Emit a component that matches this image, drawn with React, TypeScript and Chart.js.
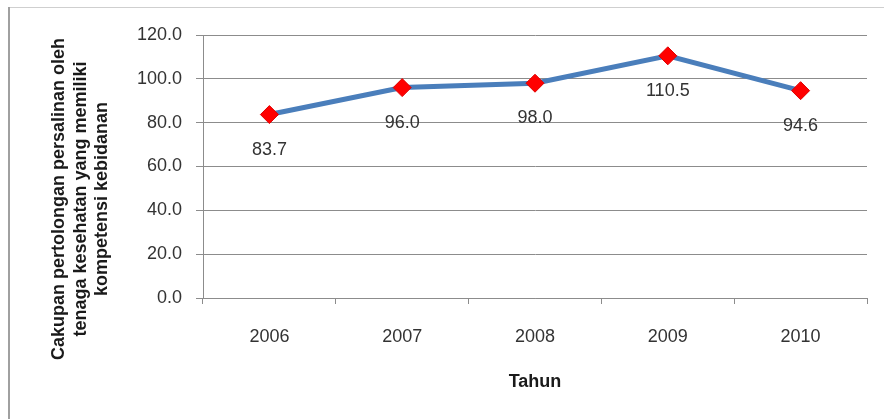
import React, { useEffect, useRef } from "react";
import { Chart, registerables } from "chart.js";

Chart.register(...registerables);

const categories = ["2006", "2007", "2008", "2009", "2010"];
const values = [83.7, 96.0, 98.0, 110.5, 94.6];
const yTitleLines = [
  "Cakupan pertolongan persalinan oleh",
  "tenaga kesehatan yang memiliki",
  "kompetensi kebidanan",
];
const xTitle = "Tahun";

const FONT = "'Liberation Sans', Arial, sans-serif";

const framePlugin = {
  id: "frame",
  beforeDraw(chart: any) {
    const ctx = chart.ctx;
    ctx.save();
    ctx.fillStyle = "#ffffff";
    ctx.fillRect(0, 0, chart.width, chart.height);
    ctx.fillStyle = "#cfcfcf";
    ctx.fillRect(8, 7, chart.width - 8, 1);
    ctx.fillStyle = "#a0a0a0";
    ctx.fillRect(8, 7, 2, chart.height - 7);
    ctx.restore();
  },
};

const yTitlePlugin = {
  id: "yTitle",
  afterDraw(chart: any) {
    const ctx = chart.ctx;
    const lh = 21.5;
    const cx = 81;
    const cy = 199;
    ctx.save();
    ctx.fillStyle = "#1a1a1a";
    ctx.font = `bold 18px ${FONT}`;
    ctx.textAlign = "center";
    ctx.textBaseline = "middle";
    yTitleLines.forEach((line, i) => {
      const x = cx + (i - (yTitleLines.length - 1) / 2) * lh;
      ctx.save();
      ctx.translate(x, cy);
      ctx.rotate(-Math.PI / 2);
      ctx.fillText(line, 0, 0);
      ctx.restore();
    });
    ctx.restore();
  },
};

const dataLabelPlugin = {
  id: "dataLabels",
  afterDatasetsDraw(chart: any) {
    const ctx = chart.ctx;
    const meta = chart.getDatasetMeta(0);
    ctx.save();
    ctx.fillStyle = "#333333";
    ctx.font = `18px ${FONT}`;
    ctx.textAlign = "center";
    ctx.textBaseline = "middle";
    meta.data.forEach((pt: any, i: number) => {
      ctx.fillText(values[i].toFixed(1), pt.x, pt.y + 35);
    });
    ctx.restore();
  },
};

export default function App() {
  const ref = useRef<HTMLCanvasElement | null>(null);
  useEffect(() => {
    if (!ref.current) return;
    const chart = new Chart(ref.current, {
      type: "line",
      data: {
        labels: categories,
        datasets: [
          {
            data: values,
            borderColor: "#4a7ebb",
            borderWidth: 5,
            pointStyle: "rectRot",
            pointRadius: 9,
            pointBackgroundColor: "#ff0000",
            pointBorderColor: "#e00000",
            pointBorderWidth: 1,
            tension: 0,
            fill: false,
          },
        ],
      },
      options: {
        responsive: false,
        animation: false,
        devicePixelRatio: 1,
        layout: { padding: { top: 35, right: 17, left: 0, bottom: 0 } },
        plugins: {
          legend: { display: false },
          tooltip: { enabled: false },
        },
        scales: {
          x: {
            offset: true,
            grid: {
              offset: true,
              drawOnChartArea: false,
              drawTicks: true,
              tickLength: 6,
              color: "#8c8c8c",
            },
            border: { display: true, color: "#8c8c8c", width: 1 },
            ticks: {
              color: "#333333",
              font: { family: FONT, size: 18 },
              padding: 22,
              maxRotation: 0,
            },
            title: {
              display: true,
              text: xTitle,
              color: "#1a1a1a",
              font: { family: FONT, size: 18, weight: "bold" },
              padding: { top: 0, bottom: 26 },
            },
            afterFit(scale: any) {
              scale.height = 121;
            },
          },
          y: {
            min: 0,
            max: 120,
            ticks: {
              stepSize: 20,
              color: "#333333",
              font: { family: FONT, size: 18 },
              padding: 14,
              callback: (v: any) => Number(v).toFixed(1),
            },
            grid: {
              color: "#8c8c8c",
              tickLength: 7,
              lineWidth: 1,
            },
            border: { display: true, color: "#8c8c8c", width: 1 },
            afterFit(scale: any) {
              scale.width = 203;
            },
          },
        },
      },
      plugins: [framePlugin, yTitlePlugin, dataLabelPlugin],
    });
    return () => chart.destroy();
  }, []);
  return (
    <div style={{ position: "absolute", left: 0, top: 0, width: 884, height: 419 }}>
      <canvas ref={ref} width={884} height={419} style={{ width: 884, height: 419, display: "block" }} />
    </div>
  );
}
